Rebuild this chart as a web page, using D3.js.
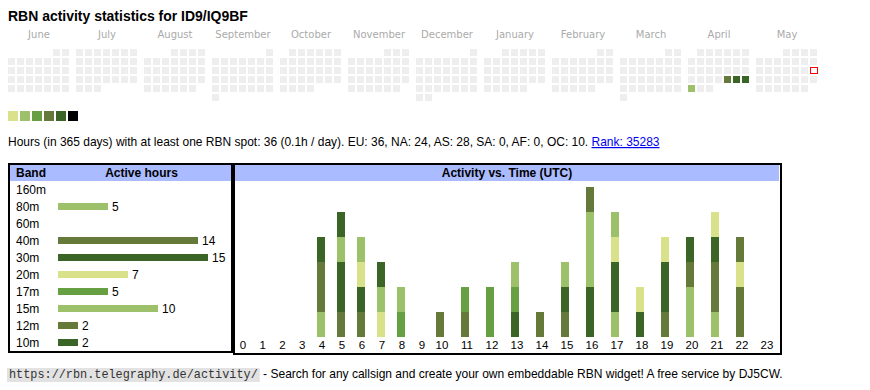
<!DOCTYPE html>
<html><head><meta charset="utf-8">
<script src="https://cdn.jsdelivr.net/npm/d3@7"></script>
<style>body{margin:0;background:#fff}svg{display:block}text{white-space:pre}</style>
</head><body><svg id="c" width="870" height="390"></svg>
<script>
// ---------- data ----------
const monthNames = ["June","July","August","September","October","November","December","January","February","March","April","May"];
const monthFirstDays = ["2024-06-01","2024-07-01","2024-08-01","2024-09-01","2024-10-01","2024-11-01","2024-12-01","2025-01-01","2025-02-01","2025-03-01","2025-04-01","2025-05-01"];
const activeDays = ["2025-04-25","2025-04-26","2025-04-27","2025-04-28"];
const activeLevels = [4,5,5,2];
const todayDate = "2025-05-18";
const levelColors = ["#d9e28a","#9dc06b","#67a043","#657a3a","#3a6527","#000000"];

const bands = ["160m","80m","60m","40m","30m","20m","17m","15m","12m","10m"];
const bandColors = ["#d9e28a","#9dc06b","#67a043","#657a3a","#3a6527","#d9e28a","#67a043","#9dc06b","#657a3a","#3a6527"];
const hourLabels = ["0","1","2","3","4","5","6","7","8","9","10","11","12","13","14","15","16","17","18","19","20","21","22","23"];
const h160 = [0,0,0,0,0,0,0,0,0,0,0,0,0,0,0,0,0,0,0,0,0,0,0,0];
const h80  = [0,0,0,0,1,0,0,0,0,0,0,0,0,0,0,0,0,1,0,0,2,1,0,0];
const h60  = [0,0,0,0,0,0,0,0,0,0,0,0,0,0,0,0,0,0,0,0,0,0,0,0];
const h40  = [0,0,0,0,2,1,1,0,0,0,1,1,0,0,1,1,0,0,0,1,1,2,2,0];
const h30  = [0,0,0,0,1,2,1,0,0,0,0,0,0,1,0,1,2,2,1,2,1,1,0,0];
const h20  = [0,0,0,0,0,0,1,1,0,0,0,0,0,0,0,0,0,1,1,1,0,1,1,0];
const h17  = [0,0,0,0,0,0,0,0,1,0,0,1,2,1,0,0,0,0,0,0,0,0,0,0];
const h15  = [0,0,0,0,0,1,1,1,1,0,0,0,0,1,0,1,3,1,0,0,0,0,0,0];
const h12  = [0,0,0,0,0,0,0,0,0,0,0,0,0,0,0,0,1,0,0,0,0,0,1,0];
const h10  = [0,0,0,0,0,1,0,1,0,0,0,0,0,0,0,0,0,0,0,0,0,0,0,0];
const bandSeries = [h160,h80,h60,h40,h30,h20,h17,h15,h12,h10];

const titleText = "RBN activity statistics for ID9/IQ9BF";
const infoText = "Hours (in 365 days) with at least one RBN spot: 36 (0.1h / day). EU: 36, NA: 24, AS: 28, SA: 0, AF: 0, OC: 10. ";
const rankText = "Rank: 35283";
const footerUrl = "https://rbn.telegraphy.de/activity/";
const footerText = " - Search for any callsign and create your own embeddable RBN widget! A free service by DJ5CW.";

// ---------- drawing ----------
const svg = d3.select("#c");
const SANS = "'Liberation Sans', Arial, sans-serif";
const VERD = "'DejaVu Sans', Verdana, sans-serif";
const MONO = "'Liberation Mono', 'Courier New', monospace";
const parse = d3.utcParse("%Y-%m-%d");
const fmt = d3.utcFormat("%Y-%m-%d");

function fitText(sel, target) {
  const w = sel.node().getComputedTextLength();
  const fs = parseFloat(sel.attr("font-size"));
  sel.attr("font-size", (fs * target / w).toFixed(2));
}

// title
const title = svg.append("text").attr("x", 8).attr("y", 21)
  .attr("font-family", SANS).attr("font-weight", "bold").attr("font-size", 14)
  .attr("fill", "#000").text(titleText);
fitText(title, 240);

// calendar
const monthX = d3.scaleLinear().domain([0, 11]).range([8, 756]);
const weekY = d3.scaleLinear().domain([0, 5]).range([49, 94]);
const cell = 7, step = 9;
const levelByDay = new Map(activeDays.map((d, i) => [d, activeLevels[i]]));
const cal = svg.append("g");
monthFirstDays.forEach((ms, mi) => {
  const start = parse(ms);
  const end = d3.utcMonth.offset(start, 1);
  const days = d3.utcDays(start, end);
  const firstWd = (start.getUTCDay() + 6) % 7;
  const x0 = monthX(mi);
  cal.append("text").attr("x", x0 + (7 * step - 2) / 2 + 0.5).attr("y", 38)
    .attr("text-anchor", "middle").attr("font-family", VERD).attr("font-size", 10)
    .attr("fill", "#aaaaaa").text(monthNames[mi]);
  cal.selectAll(null).data(days).enter().append("rect")
    .attr("x", d => x0 + ((d.getUTCDay() + 6) % 7) * step)
    .attr("y", d => weekY(Math.floor((d.getUTCDate() - 1 + firstWd) / 7)))
    .attr("width", cell).attr("height", cell)
    .attr("fill", d => { const l = levelByDay.get(fmt(d)); return l ? levelColors[l - 1] : "#eeeeee"; })
    .each(function (d) {
      if (fmt(d) === todayDate) {
        d3.select(this).attr("fill", "#fff").attr("stroke", "#ff0000").attr("stroke-width", 1)
          .attr("x", +d3.select(this).attr("x") + 0.5).attr("y", +d3.select(this).attr("y") + 0.5)
          .attr("width", cell).attr("height", cell - 1);
      }
    });
});

// legend
const legX = d3.scaleLinear().domain([0, 1]).range([8, 20]);
svg.selectAll(null).data(levelColors).enter().append("rect")
  .attr("x", (d, i) => legX(i)).attr("y", 111).attr("width", 10).attr("height", 10)
  .attr("fill", d => d);

// info line
const info = svg.append("text").attr("x", 8).attr("y", 146)
  .attr("font-family", SANS).attr("font-size", 12).attr("fill", "#000");
info.append("tspan").text(infoText);
info.append("tspan").attr("fill", "#0000ee").attr("text-decoration", "underline").text(rankText);
fitText(info, 652);

// ----- left table: band / active hours -----
const totals = bandSeries.map(s => d3.sum(s));
svg.append("rect").attr("x", 10).attr("y", 165).attr("width", 221).attr("height", 16).attr("fill", "#aabbff");
svg.append("rect").attr("x", 9).attr("y", 164).attr("width", 223).attr("height", 188)
  .attr("fill", "none").attr("stroke", "#000").attr("stroke-width", 2);
svg.append("text").attr("x", 16).attr("y", 177).attr("font-family", SANS).attr("font-weight", "bold")
  .attr("font-size", 12).text("Band");
svg.append("text").attr("x", 141.5).attr("y", 177).attr("text-anchor", "middle").attr("font-family", SANS)
  .attr("font-weight", "bold").attr("font-size", 12).text("Active hours");

const yBand = d3.scaleBand().domain(bands).range([181, 351]);
const xHours = d3.scaleLinear().domain([0, 15]).range([58, 208]);
const rows = svg.append("g").selectAll("g").data(bands).enter().append("g");
rows.append("text").attr("x", 16).attr("y", d => yBand(d) + yBand.bandwidth() / 2 + 4)
  .attr("font-family", SANS).attr("font-size", 12).attr("fill", "#000").text(d => d);
rows.filter((d, i) => totals[i] > 0).append("rect")
  .attr("x", xHours(0)).attr("y", d => yBand(d) + yBand.bandwidth() / 2 - 3.5)
  .attr("width", d => xHours(totals[bands.indexOf(d)]) - xHours(0)).attr("height", 7)
  .attr("fill", d => bandColors[bands.indexOf(d)]);
rows.filter((d, i) => totals[i] > 0).append("text")
  .attr("x", d => xHours(totals[bands.indexOf(d)]) + 4).attr("y", d => yBand(d) + yBand.bandwidth() / 2 + 4)
  .attr("font-family", SANS).attr("font-size", 12).attr("fill", "#000")
  .text(d => totals[bands.indexOf(d)]);

// ----- right table: activity vs time -----
svg.append("rect").attr("x", 235).attr("y", 165).attr("width", 544).attr("height", 16).attr("fill", "#aabbff");
svg.append("rect").attr("x", 234).attr("y", 164).attr("width", 547).attr("height", 190)
  .attr("fill", "none").attr("stroke", "#000").attr("stroke-width", 2);
svg.append("text").attr("x", 507).attr("y", 177).attr("text-anchor", "middle").attr("font-family", SANS)
  .attr("font-weight", "bold").attr("font-size", 12).text("Activity vs. Time (UTC)");

const xHour = d3.scaleLinear().domain([0, 4, 9, 10, 23]).range([242, 321, 421, 440, 765]);
const yCount = d3.scaleLinear().domain([0, 6]).range([337, 187]);
const hourRows = hourLabels.map((h, i) => { const o = { hour: i }; bands.forEach((b, j) => o[b] = bandSeries[j][i]); return o; });
const stacked = d3.stack().keys(bands)(hourRows);
const gBars = svg.append("g");
stacked.forEach((layer, li) => {
  gBars.selectAll(null).data(layer.filter(d => d[1] > d[0])).enter().append("rect")
    .attr("x", d => xHour(d.data.hour) - 4).attr("width", 8)
    .attr("y", d => yCount(d[1])).attr("height", d => yCount(d[0]) - yCount(d[1]))
    .attr("fill", bandColors[li]);
});
svg.append("g").selectAll("text").data(hourLabels).enter().append("text")
  .attr("x", (d, i) => xHour(i) + (d.length > 1 ? 2 : 1)).attr("y", 349).attr("text-anchor", "middle")
  .attr("font-family", SANS).attr("font-size", 11.5).attr("fill", "#000").text(d => d);

// footer
const fUrl = svg.append("text").attr("x", 9).attr("y", 378).attr("font-family", MONO)
  .attr("font-size", 12).attr("fill", "#333").text(footerUrl);
fitText(fUrl, 249);
const bb = fUrl.node().getBBox();
svg.insert("rect", "text").attr("x", 7).attr("y", 368).attr("width", bb.width + 4).attr("height", 14).attr("fill", "#e2e2e2");
const fTxt = svg.append("text").attr("x", 9 + bb.width + 2).attr("y", 378).attr("font-family", SANS)
  .attr("font-size", 12).attr("fill", "#000").text(footerText);
fitText(fTxt, 783 - (9 + bb.width + 2));
</script></body></html>
